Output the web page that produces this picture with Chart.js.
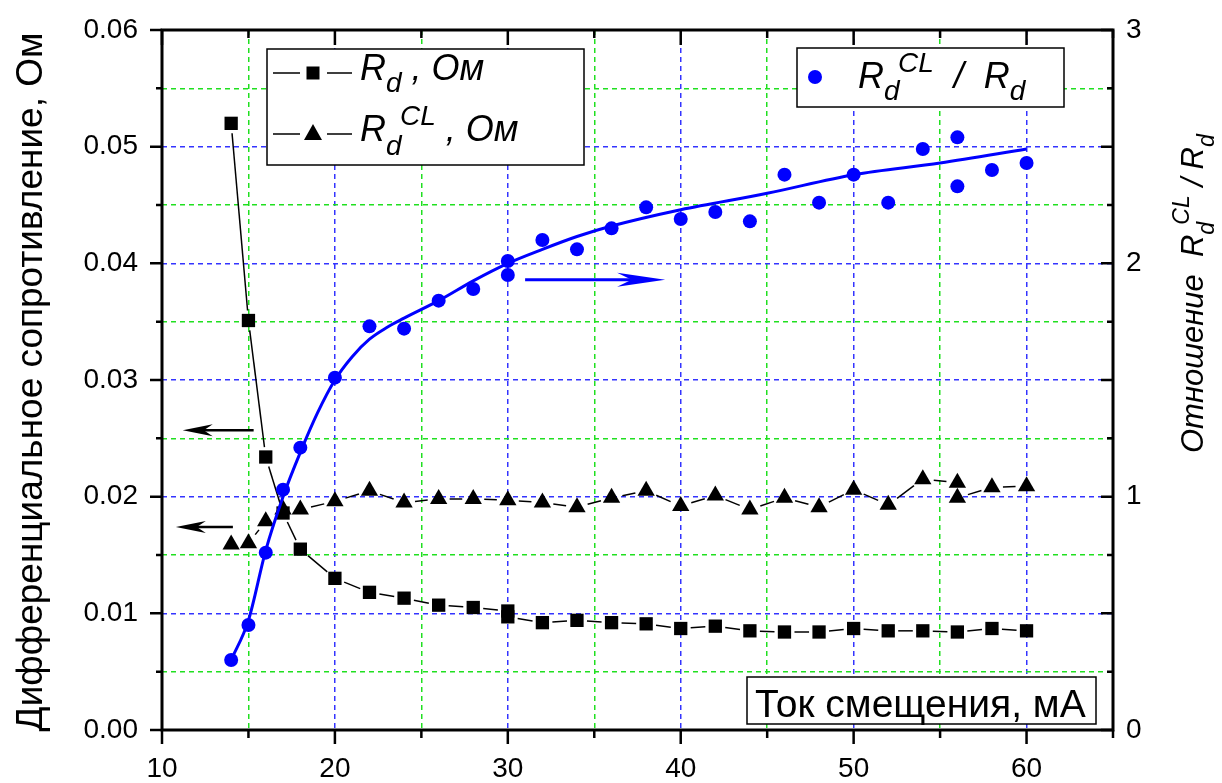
<!DOCTYPE html>
<html>
<head>
<meta charset="utf-8">
<script src="https://cdn.jsdelivr.net/npm/chart.js@4.4.1/dist/chart.umd.min.js"></script>
<style>
  body { margin: 0; background: #fff; }
  canvas { display: block; }
</style>
</head>
<body>
<canvas id="myChart" width="1222" height="783"></canvas>
<script>
// ток смещения, мА
const currentRd = [14, 15, 16, 17, 18, 20, 22, 24, 26, 28, 30, 30, 32, 34, 36, 38, 40, 42, 44, 46, 48, 50, 52, 54, 56, 58, 60];
const rd = [0.0520, 0.0351, 0.0234, 0.0186, 0.0155, 0.0130, 0.0118, 0.0113, 0.0107, 0.0105, 0.0102, 0.0097, 0.0092, 0.0094, 0.0092, 0.0091, 0.0087, 0.0089, 0.0085, 0.0084, 0.0084, 0.0087, 0.0085, 0.0085, 0.0084, 0.0087, 0.0085];

const currentCL = [14, 15, 16, 17, 18, 20, 22, 24, 26, 28, 30, 32, 34, 36, 38, 40, 42, 44, 46, 48, 50, 52, 54, 56, 56, 58, 60];
const rdCL = [0.0159, 0.0160, 0.0179, 0.0189, 0.0189, 0.0196, 0.0205, 0.0195, 0.0198, 0.0198, 0.0197, 0.0195, 0.0191, 0.0199, 0.0205, 0.0192, 0.0201, 0.0189, 0.0199, 0.0191, 0.0206, 0.0193, 0.0215, 0.0212, 0.0199, 0.0208, 0.0209];

const currentRatio = [14, 15, 16, 17, 18, 20, 22, 24, 26, 28, 30, 30, 32, 34, 36, 38, 40, 42, 44, 46, 48, 50, 52, 54, 56, 56, 58, 60];
const ratio = [0.30, 0.45, 0.76, 1.03, 1.21, 1.51, 1.73, 1.72, 1.84, 1.89, 2.01, 1.95, 2.10, 2.06, 2.15, 2.24, 2.19, 2.22, 2.18, 2.38, 2.26, 2.38, 2.26, 2.49, 2.54, 2.33, 2.40, 2.43];

// сглаживающая кривая (читается с рисунка)
const fitX = [14, 15, 16, 17, 18, 19, 20, 21, 22, 23, 24, 26, 28, 30, 32, 34, 36, 40, 45, 50, 55, 60];
const fitY = [0.30, 0.47, 0.77, 1.00, 1.19, 1.36, 1.50, 1.60, 1.675, 1.725, 1.765, 1.84, 1.925, 2.00, 2.06, 2.115, 2.16, 2.23, 2.30, 2.38, 2.43, 2.49];

const xTicks = [10, 15, 20, 25, 30, 35, 40, 45, 50, 55, 60, 65];
const leftTicks = [0, 0.005, 0.01, 0.015, 0.02, 0.025, 0.03, 0.035, 0.04, 0.045, 0.05, 0.055, 0.06];
const rightTicks = [0, 0.25, 0.5, 0.75, 1, 1.25, 1.5, 1.75, 2, 2.25, 2.5, 2.75, 3];

// стрелки: к какой оси относятся
const arrows = [
  { axis: "y", from: 15.3, to: 11.2, value: 0.0257, color: "#000" },
  { axis: "y", from: 14.1, to: 10.8, value: 0.0174, color: "#000" },
  { axis: "y1", from: 31.0, to: 39.1, value: 1.93, color: "#0000ff" },
];

const BLUE = "#0000ff";
const GRID_BLUE = "#3434ff";
const GRID_GREEN = "#20e020";
const FONT = "'Liberation Sans', Arial, sans-serif";

const isMajorX = (v) => Math.round(v) % 10 === 0;
const isMajorLeft = (v) => Math.round(v * 1000) % 10 === 0;
const isMajorRight = (v) => Math.round(v * 100) % 50 === 0;

const toXY = (xs, ys) => xs.map((x, i) => ({ x: x, y: ys[i] }));

// разрыв линии возле маркеров, как в Origin
function gapDash(gap) {
  return (c) => {
    const len = Math.hypot(c.p1.x - c.p0.x, c.p1.y - c.p0.y);
    if (len < 2 * gap + 2) return [0, len + 1];
    return [0, gap, len - 2 * gap, gap];
  };
}

function richText(ctx, x, y, parts, italic) {
  let lastStart = x, maxX = x;
  parts.forEach((p) => {
    ctx.font = (italic ? "italic " : "") + p.size + "px " + FONT;
    const start = p.stack !== undefined ? lastStart + p.stack : maxX;
    ctx.fillText(p.t, start, y + (p.dy || 0));
    lastStart = start;
    maxX = Math.max(maxX, start + ctx.measureText(p.t).width);
  });
}

function drawArrow(ctx, x0, x1, y, color, lw, len, half) {
  const dir = Math.sign(x1 - x0);
  ctx.save();
  ctx.strokeStyle = color;
  ctx.fillStyle = color;
  ctx.lineWidth = lw;
  ctx.beginPath();
  ctx.moveTo(x0, y);
  ctx.lineTo(x1 - dir * len * 0.5, y);
  ctx.stroke();
  ctx.beginPath();
  ctx.moveTo(x1, y);
  ctx.lineTo(x1 - dir * len, y - half);
  ctx.lineTo(x1 - dir * len * 0.7, y);
  ctx.lineTo(x1 - dir * len, y + half);
  ctx.closePath();
  ctx.fill();
  ctx.restore();
}

const noVerticalPadding = (s) => { s.paddingTop = 0; s.paddingBottom = 0; };

const decorations = {
  id: "decorations",
  afterDraw(chart) {
    const { ctx, chartArea: a, scales } = chart;
    const { x, y, y1 } = scales;

    // стрелки
    arrows.forEach((ar) => {
      const py = scales[ar.axis].getPixelForValue(ar.value);
      const blue = ar.axis === "y1";
      drawArrow(ctx, x.getPixelForValue(ar.from), x.getPixelForValue(ar.to), py,
        ar.color, blue ? 3 : 2.5, blue ? 48 : 30, blue ? 7 : 6);
    });

    // засечки и рамка
    ctx.save();
    ctx.strokeStyle = "#000";
    ctx.lineWidth = 2.5;
    ctx.beginPath();
    xTicks.forEach((v) => {
      const px = x.getPixelForValue(v);
      ctx.moveTo(px, a.bottom);
      ctx.lineTo(px, a.bottom + (isMajorX(v) ? 14 : 8));
      ctx.moveTo(px, a.top);
      ctx.lineTo(px, a.top + (isMajorX(v) ? 15 : 8));
    });
    leftTicks.forEach((v) => {
      const py = y.getPixelForValue(v);
      ctx.moveTo(a.left, py);
      ctx.lineTo(a.left - (isMajorLeft(v) ? 12 : 6), py);
    });
    rightTicks.forEach((v) => {
      const py = y1.getPixelForValue(v);
      ctx.moveTo(a.right, py);
      ctx.lineTo(a.right - (isMajorRight(v) ? 12 : 6), py);
    });
    ctx.stroke();
    ctx.lineWidth = 3;
    ctx.strokeRect(a.left, a.top, a.right - a.left, a.bottom - a.top);

    // легенда 1
    ctx.fillStyle = "#fff";
    ctx.lineWidth = 1.5;
    ctx.fillRect(267, 49, 317, 116);
    ctx.strokeRect(267, 49, 317, 116);
    ctx.strokeStyle = "#000";
    ctx.beginPath();
    ctx.moveTo(273, 73); ctx.lineTo(300, 73);
    ctx.moveTo(327, 73); ctx.lineTo(352, 73);
    ctx.moveTo(273, 134); ctx.lineTo(300, 134);
    ctx.moveTo(327, 134); ctx.lineTo(352, 134);
    ctx.stroke();
    ctx.fillStyle = "#000";
    ctx.fillRect(306.5, 66.5, 13, 13);
    ctx.beginPath();
    ctx.moveTo(313, 124); ctx.lineTo(322, 140); ctx.lineTo(304, 140);
    ctx.closePath();
    ctx.fill();
    ctx.textBaseline = "alphabetic";
    ctx.textAlign = "left";
    richText(ctx, 360, 80, [
      { t: "R", size: 36 }, { t: "d", size: 28, dy: 12 }, { t: " , Ом", size: 36 },
    ], true);
    richText(ctx, 360, 141, [
      { t: "R", size: 36 }, { t: "d", size: 28, dy: 14 },
      { t: "CL", size: 28, dy: -16, stack: 14 }, { t: " , Ом", size: 36 },
    ], true);

    // легенда 2
    ctx.fillStyle = "#fff";
    ctx.fillRect(797, 48, 267, 59);
    ctx.strokeRect(797, 48, 267, 59);
    ctx.fillStyle = BLUE;
    ctx.beginPath();
    ctx.arc(815, 77, 7, 0, Math.PI * 2);
    ctx.fill();
    ctx.fillStyle = "#000";
    richText(ctx, 858, 88, [
      { t: "R", size: 36 }, { t: "d", size: 28, dy: 12 },
      { t: "CL", size: 28, dy: -16, stack: 14 }, { t: "  /  R", size: 36 },
      { t: "d", size: 28, dy: 12 },
    ], true);

    // подпись оси X в рамке
    ctx.fillStyle = "#fff";
    ctx.fillRect(747, 677, 349, 47);
    ctx.strokeRect(747, 677, 349, 47);
    ctx.fillStyle = "#000";
    ctx.font = "39px " + FONT;
    ctx.fillText("Ток смещения, мА", 755, 717);

    // левая подпись
    ctx.save();
    ctx.translate(42, 382);
    ctx.rotate(-Math.PI / 2);
    ctx.textAlign = "center";
    ctx.font = "37px " + FONT;
    ctx.fillText("Дифференциальное сопротивление, Ом", 0, 0);
    ctx.restore();

    // правая подпись
    ctx.save();
    ctx.translate(1203, 453);
    ctx.rotate(-Math.PI / 2);
    richText(ctx, 0, 0, [
      { t: "Отношение  R", size: 31 }, { t: "d", size: 23, dy: 11 },
      { t: "CL", size: 23, dy: -14, stack: 10 }, { t: " / R", size: 31 },
      { t: "d", size: 23, dy: 11 },
    ], true);
    ctx.restore();
    ctx.restore();
  },
};

Chart.defaults.font.family = FONT;
Chart.defaults.color = "#000";

const ctx = document.getElementById("myChart");

const myChart = new Chart(ctx, {
  type: "line",
  data: {
    datasets: [
      {
        label: "fit",
        data: toXY(fitX, fitY),
        yAxisID: "y1",
        borderColor: BLUE,
        borderWidth: 3,
        pointRadius: 0,
        cubicInterpolationMode: "monotone",
        order: 0,
      },
      {
        label: "Rd CL / Rd",
        data: toXY(currentRatio, ratio),
        yAxisID: "y1",
        showLine: false,
        pointStyle: "circle",
        pointRadius: 7,
        pointBorderWidth: 0,
        pointBackgroundColor: BLUE,
        order: 1,
      },
      {
        label: "Rd, Ом",
        data: toXY(currentRd, rd),
        yAxisID: "y",
        borderColor: "#000",
        borderWidth: 1.5,
        pointStyle: "rect",
        pointRadius: 9.4,
        pointBorderWidth: 0,
        pointBackgroundColor: "#000",
        segment: { borderDash: gapDash(10) },
        order: 2,
      },
      {
        label: "Rd CL, Ом",
        data: toXY(currentCL, rdCL),
        yAxisID: "y",
        borderColor: "#000",
        borderWidth: 1.5,
        pointStyle: "triangle",
        pointRadius: 10,
        pointBorderWidth: 0,
        pointBackgroundColor: "#000",
        segment: { borderDash: gapDash(11) },
        order: 3,
      },
    ],
  },
  options: {
    responsive: false,
    animation: false,
    layout: { padding: { top: 30, left: 0, right: 0, bottom: 0 } },
    plugins: { legend: { display: false }, tooltip: { enabled: false } },
    scales: {
      x: {
        type: "linear",
        position: "bottom",
        min: 10,
        max: 65,
        afterBuildTicks: (s) => { s.ticks = xTicks.map((v) => ({ value: v })); },
        afterFit: (s) => { s.height = 53; },
        ticks: {
          padding: 22,
          maxRotation: 0,
          autoSkip: false,
          font: { size: 28 },
          callback: (v) => (isMajorX(v) && v < 65 ? String(v) : ""),
        },
        grid: {
          drawTicks: false,
          lineWidth: 1.5,
          color: (c) => (c.tick && isMajorX(c.tick.value) ? GRID_BLUE : GRID_GREEN),
        },
        border: { display: false, dash: [5, 4] },
      },
      y: {
        type: "linear",
        position: "left",
        min: 0,
        max: 0.06,
        afterBuildTicks: (s) => { s.ticks = leftTicks.map((v) => ({ value: v })); },
        afterFit: (s) => { s.width = 162; noVerticalPadding(s); },
        ticks: {
          padding: 24,
          autoSkip: false,
          font: { size: 28 },
          callback: (v) => (isMajorLeft(v) ? v.toFixed(2) : ""),
        },
        grid: {
          drawTicks: false,
          lineWidth: 1.5,
          color: (c) => (c.tick && isMajorLeft(c.tick.value) ? GRID_BLUE : GRID_GREEN),
        },
        border: { display: false, dash: [5, 4] },
      },
      y1: {
        type: "linear",
        position: "right",
        min: 0,
        max: 3,
        afterBuildTicks: (s) => { s.ticks = rightTicks.map((v) => ({ value: v })); },
        afterFit: (s) => { s.width = 109; noVerticalPadding(s); },
        ticks: {
          padding: 13,
          autoSkip: false,
          font: { size: 28 },
          callback: (v) => (Math.abs(v - Math.round(v)) < 1e-9 ? String(Math.round(v)) : ""),
        },
        grid: { display: false, drawTicks: false },
        border: { display: false },
      },
    },
  },
  plugins: [decorations],
});
</script>
</body>
</html>
